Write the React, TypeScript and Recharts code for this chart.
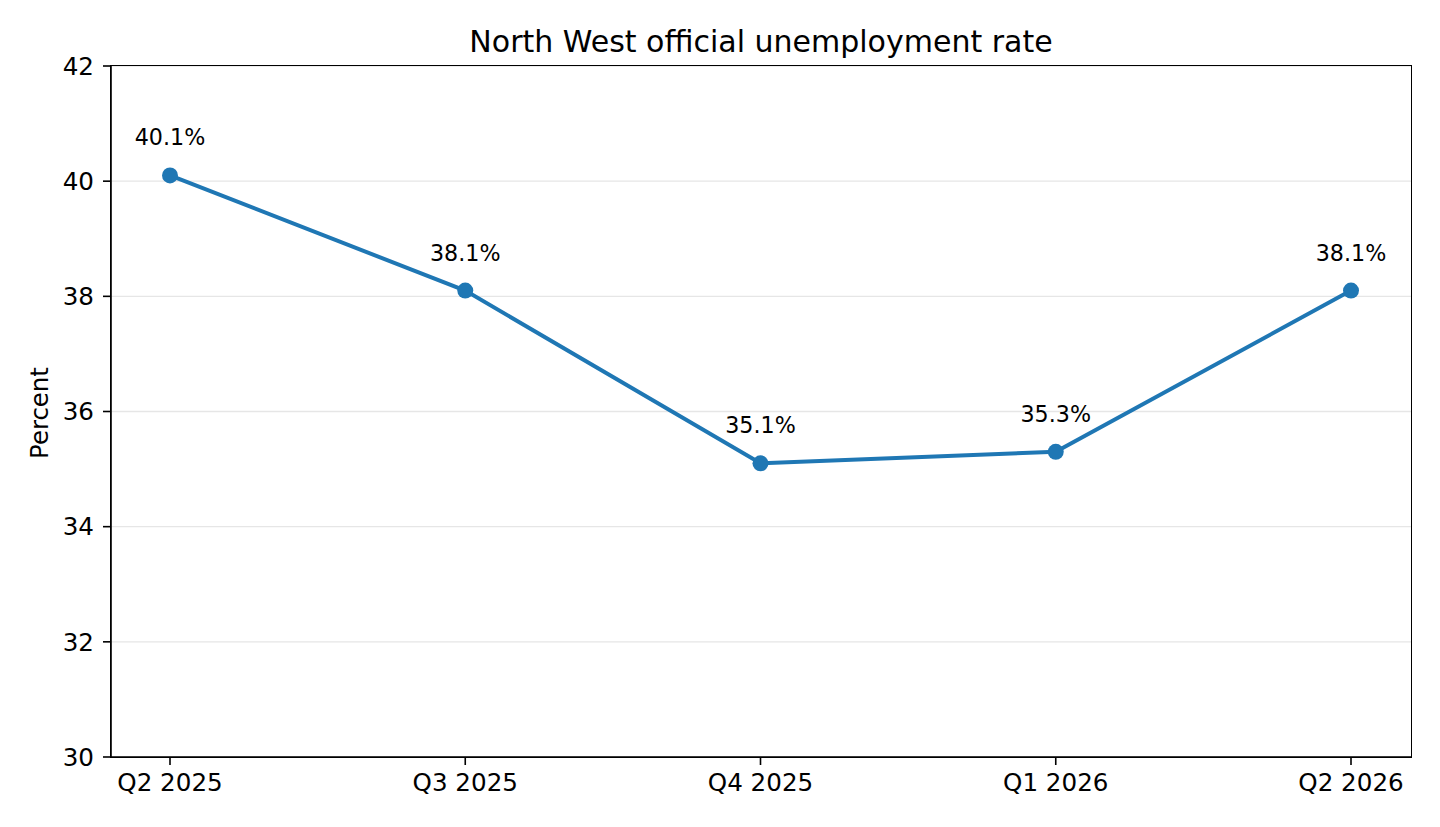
import { LineChart, Line, XAxis, YAxis, CartesianGrid, LabelList, Label } from 'recharts';

const quarters = ['Q2 2025', 'Q3 2025', 'Q4 2025', 'Q1 2026', 'Q2 2026'];
const rates = [40.1, 38.1, 35.1, 35.3, 38.1];
const yTicks = [30, 32, 34, 36, 38, 40, 42];

const data = quarters.map((q, i) => ({ quarter: q, rate: rates[i] }));

const FONT = '"DejaVu Sans", sans-serif';
const BLUE = '#1f77b4';

export default function App() {
  return (
    <div style={{ position: 'absolute', left: 0, top: 0, width: 1440, height: 827, background: '#fff', fontFamily: FONT }}>
      <div
        style={{
          position: 'absolute',
          left: 111,
          width: 1300,
          top: 25,
          textAlign: 'center',
          fontSize: 30,
          lineHeight: '34px',
          color: '#000',
        }}
      >
        North West official unemployment rate
      </div>
      <LineChart
        width={1440}
        height={827}
        data={data}
        margin={{ top: 66, right: 29, bottom: 0, left: 0 }}
        style={{ fontFamily: FONT }}
      >
        <CartesianGrid horizontal vertical={false} stroke="#e6e6e6" strokeWidth={1.3} />
        <XAxis
          dataKey="quarter"
          padding={{ left: 59, right: 60 }}
          height={70}
          stroke="#000"
          strokeWidth={1.6}
          tickSize={8}
          tickMargin={9}
          tick={{ fill: '#000', fontSize: 24.6 }}
          interval={0}
        />
        <YAxis
          domain={[30, 42]}
          ticks={yTicks}
          width={111}
          stroke="#000"
          strokeWidth={1.6}
          tickSize={8}
          tickMargin={9}
          tick={{ fill: '#000', fontSize: 24.6 }}
          allowDataOverflow
        >
          <Label
            content={() => (
              <text
                x={39}
                y={413}
                transform="rotate(-90 39 413)"
                textAnchor="middle"
                dominantBaseline="central"
                fontSize={24.4}
                fill="#000"
                fontFamily={FONT}
              >
                Percent
              </text>
            )}
          />
        </YAxis>
        <Line
          type="linear"
          dataKey="rate"
          stroke={BLUE}
          strokeWidth={4}
          dot={{ r: 8, fill: BLUE, stroke: BLUE, strokeWidth: 0 }}
          activeDot={false}
          isAnimationActive={false}
        >
          <LabelList
            dataKey="rate"
            position="top"
            offset={30}
            formatter={(v: number) => `${v.toFixed(1)}%`}
            style={{ fill: '#000', fontSize: 22.2, fontFamily: FONT }}
          />
        </Line>
      </LineChart>
      <div
        style={{
          position: 'absolute',
          left: 110.2,
          top: 65.2,
          width: 1300,
          height: 691,
          border: '1.6px solid #000',
          pointerEvents: 'none',
        }}
      />
    </div>
  );
}
